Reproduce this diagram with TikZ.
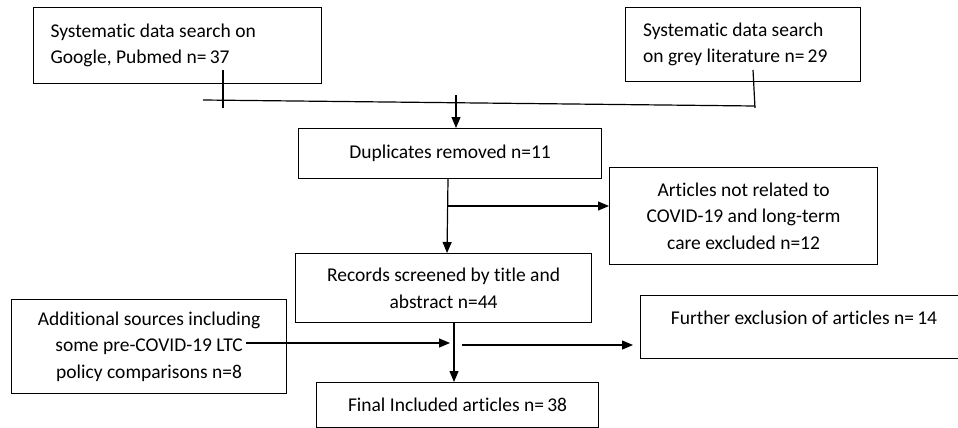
\documentclass[tikz,border=0pt]{standalone}
\usepackage{fontspec}
\setmainfont[RawFeature={-liga}]{Carlito}
\usetikzlibrary{arrows.meta,calc}
\begin{document}
\begin{tikzpicture}[x=1pt,y=-1pt,
  box/.style={draw,line width=1.2pt,inner sep=0pt,anchor=north west,font=\fontsize{19.5}{26.5}\selectfont},
  conn/.style={line width=1.2pt},
  arr/.style={line width=1.2pt,-{Triangle[length=11pt,width=9pt]}}]
\clip (0,0) rectangle (958,428);
\fill[white] (0,0) rectangle (958,428);
% boxes
\node[box,minimum width=288pt,minimum height=76pt,text width=254pt,align=flush left] (A) at (33,7) {Systematic data search on\\Google, Pubmed n=\,37};
\node[box,minimum width=235pt,minimum height=74pt,text width=200pt,align=flush left] (B) at (625,7) {Systematic data search\\on grey literature n=\,29};
\node[box,minimum width=303pt,minimum height=50pt,align=center] (D) at (298,128) {Duplicates removed n=11};
\node[box,minimum width=268pt,minimum height=97pt,align=center] (E) at (609,167) {Articles not related to\\COVID-19 and long-term\\care excluded n=12};
\node[box,minimum width=296pt,minimum height=69pt,align=center] (R) at (295,253) {Records screened by title and\\abstract n=44};
\node[box,minimum width=275pt,minimum height=94pt,align=center] (S) at (11,299) {Additional sources including\\some pre-COVID-19 LTC\\policy comparisons n=8};
\node[box,minimum width=326pt,minimum height=63pt] (F) at (640,295) {};
\node[font=\fontsize{19.5}{26.5}\selectfont,anchor=base] (Ft) at (804,324) {Further exclusion of articles n=\,14};
\node[box,minimum width=282pt,minimum height=45pt,align=center] (I) at (316,382) {Final Included articles n=\,38};
% coordinates
\coordinate (a1) at (223,70);
\coordinate (a2) at (223,108);
\coordinate (b1) at (753,70);
\coordinate (b2) at (755,108);
\coordinate (hl) at (203,100);
\coordinate (hr) at (755,106);
\coordinate (m1) at (456,95);
\coordinate (d1) at (448,206);
\coordinate (s1) at (246,343);
\coordinate (s2) at (450,343);
\coordinate (r1) at (462,345);
\coordinate (r2) at (633,345);
% connectors
\draw[conn] (a1) -- (a2);
\draw[conn] (b1) -- (b2);
\draw[conn] (hl) -- (hr);
\draw[arr] (m1) -- (m1 |- D.north);
\draw[arr] (D.south -| 448,0) -- (R.north -| 447,0);
\draw[arr] (d1) -- (d1 -| E.west);
\draw[arr] (R.south -| 454,0) -- (I.north -| 454,0);
\draw[arr] (s1) -- (s2);
\draw[arr] (r1) -- (r2);
\end{tikzpicture}
\end{document}
